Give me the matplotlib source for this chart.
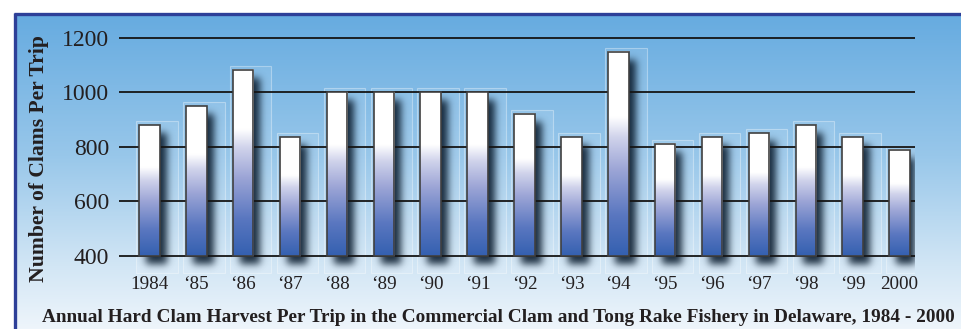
import numpy as np
import matplotlib
matplotlib.use('Agg')
import matplotlib.pyplot as plt
from matplotlib.colors import LinearSegmentedColormap
from matplotlib.lines import Line2D

# ---------------- data ----------------
years = ['1984', '\u201885', '\u201886', '\u201887', '\u201888', '\u201889', '\u201890',
         '\u201891', '\u201892', '\u201893', '\u201894', '\u201895', '\u201896',
         '\u201897', '\u201898', '\u201899', '2000']
clams = [880, 950, 1083, 835, 1000, 1000, 1000, 1000, 922, 835, 1150, 812,
         835, 850, 880, 835, 790]
yticks = [400, 600, 800, 1000, 1200]
ylabel = 'Number of Clams Per Trip'
caption = ('Annual Hard Clam Harvest Per Trip in the Commercial Clam and '
           'Tong Rake Fishery in Delaware, 1984 - 2000')

W, H = 962, 329
SERIF = ['Liberation Serif', 'DejaVu Serif']
TXT = '#231f20'

fig = plt.figure(figsize=(W / 100, H / 100), dpi=100)
fig.patch.set_facecolor('white')

# ---------------- background panel ----------------
bg = fig.add_axes([14 / W, 0, 1 - 14 / W, (H - 14) / H])
bg_cmap = LinearSegmentedColormap.from_list(
    'bg', [(0.0, '#66abe0'), (0.45, '#98c7ea'), (0.8, '#d2e6f5'), (1.0, '#eef5fb')])
bg.imshow(np.linspace(0, 1, 256).reshape(-1, 1), cmap=bg_cmap, aspect='auto',
          extent=[0, 1, 0, 1], origin='upper')
bg.set_axis_off()

# frame lines (top & left)
fig.add_artist(Line2D([14 / W, 1], [1 - 14 / H, 1 - 14 / H], transform=fig.transFigure,
                      color='#2d3f98', lw=2.4, solid_capstyle='butt'))
fig.add_artist(Line2D([15 / W, 15 / W], [0, 1 - 13 / H], transform=fig.transFigure,
                      color='#2d3f98', lw=2.4, solid_capstyle='butt'))

# ---------------- main axes ----------------
ax_l, ax_r, ax_t, ax_b = 119, 915, 27, 275
ax = fig.add_axes([ax_l / W, (H - ax_b) / H, (ax_r - ax_l) / W, (ax_b - ax_t) / H])
ax.patch.set_alpha(0)
xlim = (-0.65, 16.33)
ylim = (330, 1240)
ax.set_xlim(*xlim)
ax.set_ylim(*ylim)
pxx = (ax_r - ax_l) / (xlim[1] - xlim[0])   # pixels per x unit
pxy = (ax_b - ax_t) / (ylim[1] - ylim[0])   # pixels per y unit

x = np.arange(len(years))
bw = 20.5 / pxx
base = yticks[0]

# glass panels behind bars
for xi, v in zip(x, clams):
    ax.add_patch(plt.Rectangle((xi - bw / 2 - 3 / pxx, ylim[0] + 2 / pxy),
                               bw + 21 / pxx, v - ylim[0] + 2 / pxy,
                               facecolor=(1, 1, 1, 0.10), edgecolor=(1, 1, 1, 0.35),
                               lw=0.8, zorder=1))

# blurred shadows
nx, ny = ax_r - ax_l, ax_b - ax_t
xs = xlim[0] + (np.arange(nx) + 0.5) / pxx
ys = ylim[1] - (np.arange(ny) + 0.5) / pxy
mask = np.zeros((ny, nx))
offx, offy = 7 / pxx, 8 / pxy
for xi, v in zip(x, clams):
    cx = (xs >= xi - bw / 2 + offx) & (xs <= xi + bw / 2 + offx)
    cy = (ys <= v - offy) & (ys >= base - offy)
    mask[np.ix_(cy, cx)] = 1.0
sig = 3.8
k = np.arange(-12, 13)
kern = np.exp(-0.5 * (k / sig) ** 2)
kern /= kern.sum()
mask = np.apply_along_axis(lambda r: np.convolve(r, kern, mode='same'), 1, mask)
mask = np.apply_along_axis(lambda c: np.convolve(c, kern, mode='same'), 0, mask)
shadow = np.zeros((ny, nx, 4))
shadow[..., 0] = 0.05
shadow[..., 1] = 0.12
shadow[..., 2] = 0.19
shadow[..., 3] = np.clip(mask * 0.92, 0, 1)
ax.imshow(shadow, extent=[xlim[0], xlim[1], ylim[0], ylim[1]], origin='upper',
          aspect='auto', zorder=1.5, interpolation='bilinear')

# gridlines
ax.hlines(yticks, xlim[0], xlim[1], color='#151515', lw=1.3, zorder=2)

# bars with vertical gradient
bar_cmap = LinearSegmentedColormap.from_list(
    'bar', [(0.0, '#3460b0'), (0.2, '#5a77c0'), (0.42, '#9ca5d6'),
            (0.58, '#d0d3eb'), (0.68, '#ffffff'), (1.0, '#ffffff')])
grad = np.linspace(1, 0, 256).reshape(-1, 1)
bars = ax.bar(x, np.array(clams) - base, bottom=base, width=bw, fill=False,
              edgecolor='#404040', lw=1.2, zorder=4)
for b, xi, v in zip(bars, x, clams):
    ax.imshow(grad, cmap=bar_cmap, vmin=0, vmax=1, aspect='auto',
              extent=[xi - bw / 2, xi + bw / 2, base, v], zorder=3,
              interpolation='bilinear')
ax.set_xlim(*xlim)
ax.set_ylim(*ylim)

# ticks
ax.set_yticks(yticks)
ax.set_yticklabels([str(t) for t in yticks], family=SERIF, fontsize=17, color=TXT)
ax.set_xticks(x)
ax.set_xticklabels(years, family=SERIF, fontsize=13.8, color=TXT)
ax.tick_params(axis='y', length=0, pad=7)
ax.tick_params(axis='x', length=0, pad=1)
for s in ax.spines.values():
    s.set_visible(False)

fig.text(39 / W, 1 - 159 / H, ylabel, rotation=90, ha='center', va='center',
         family=SERIF, fontweight='bold', fontsize=15.6, color=TXT)
fig.text(498.5 / W, 1 - 322 / H, caption, ha='center', va='baseline',
         family=SERIF, fontweight='bold', fontsize=13.85, color=TXT)

fig.savefig('out.png', dpi=100)
